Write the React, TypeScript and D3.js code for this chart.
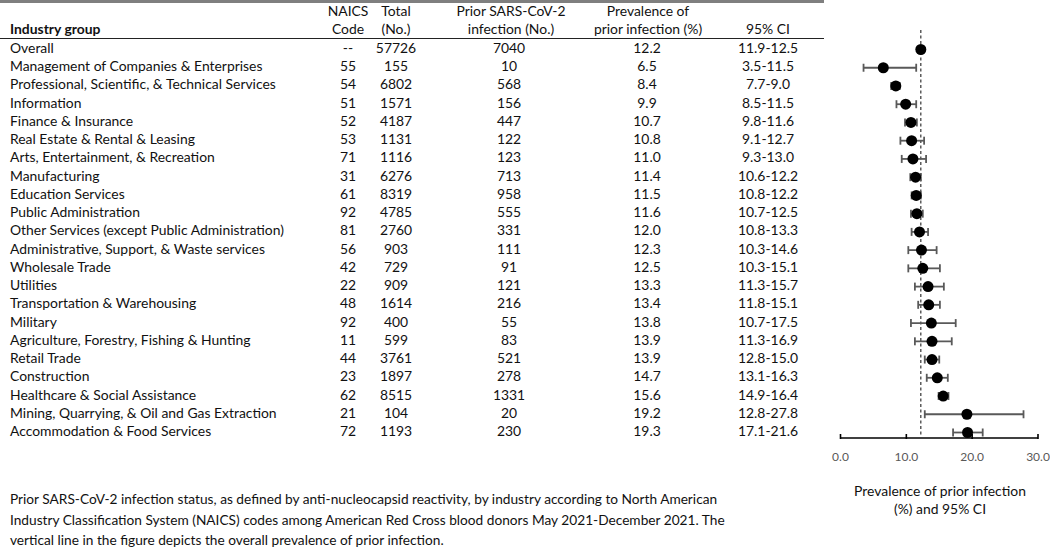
import React, { useEffect, useRef } from "react";
import * as d3 from "d3";

const industries = [
  "Overall",
  "Management of Companies & Enterprises",
  "Professional, Scientific, & Technical Services",
  "Information",
  "Finance & Insurance",
  "Real Estate & Rental & Leasing",
  "Arts, Entertainment, & Recreation",
  "Manufacturing",
  "Education Services",
  "Public Administration",
  "Other Services (except Public Administration)",
  "Administrative, Support, & Waste services",
  "Wholesale Trade",
  "Utilities",
  "Transportation & Warehousing",
  "Military",
  "Agriculture, Forestry, Fishing & Hunting",
  "Retail Trade",
  "Construction",
  "Healthcare & Social Assistance",
  "Mining, Quarrying, & Oil and Gas Extraction",
  "Accommodation & Food Services",
];
const codes = ["--", "55", "54", "51", "52", "53", "71", "31", "61", "92", "81", "56", "42", "22", "48", "92", "11", "44", "23", "62", "21", "72"];
const totals = [57726, 155, 6802, 1571, 4187, 1131, 1116, 6276, 8319, 4785, 2760, 903, 729, 909, 1614, 400, 599, 3761, 1897, 8515, 104, 1193];
const infected = [7040, 10, 568, 156, 447, 122, 123, 713, 958, 555, 331, 111, 91, 121, 216, 55, 83, 521, 278, 1331, 20, 230];
const prevalence = [12.2, 6.5, 8.4, 9.9, 10.7, 10.8, 11.0, 11.4, 11.5, 11.6, 12.0, 12.3, 12.5, 13.3, 13.4, 13.8, 13.9, 13.9, 14.7, 15.6, 19.2, 19.3];
const ciLow = [11.9, 3.5, 7.7, 8.5, 9.8, 9.1, 9.3, 10.6, 10.8, 10.7, 10.8, 10.3, 10.3, 11.3, 11.8, 10.7, 11.3, 12.8, 13.1, 14.9, 12.8, 17.1];
const ciHigh = [12.5, 11.5, 9.0, 11.5, 11.6, 12.7, 13.0, 12.2, 12.2, 12.5, 13.3, 14.6, 15.1, 15.7, 15.1, 17.5, 16.9, 15.0, 16.3, 16.4, 27.8, 21.6];
const xTicks = [0, 10, 20, 30];

const footnote = [
  "Prior SARS-CoV-2 infection status, as defined by anti-nucleocapsid reactivity, by industry according to North American",
  "Industry Classification System (NAICS) codes among American Red Cross blood donors May 2021-December 2021. The",
  "vertical line in the figure depicts the overall prevalence of prior infection.",
];

const ForestTable: React.FC = () => {
  const svgRef = useRef<SVGSVGElement>(null);

  useEffect(() => {
    if (!svgRef.current) return;
    const width = 1050;
    const height = 548;
    const font = "Lato, 'Open Sans', sans-serif";
    const textColor = "#111";
    const fs = 13.9;

    const svg = d3.select(svgRef.current).attr("width", width).attr("height", height);
    svg.selectAll("*").remove();
    svg.style("font-family", font);

    const yScale = d3.scalePoint<string>().domain(industries).range([48, 431]);
    const xScale = d3.scaleLinear().domain([0, 30]).range([840.5, 1038]);

    // table rules
    svg.append("line").attr("x1", 0).attr("x2", 824).attr("y1", 1.5).attr("y2", 1.5)
      .attr("stroke", "#7f7f7f").attr("stroke-width", 3);
    svg.append("line").attr("x1", 0).attr("x2", 824).attr("y1", 38.5).attr("y2", 38.5)
      .attr("stroke", "#222").attr("stroke-width", 1);

    // headers
    const headers = [
      { x: 348, l1: "NAICS", l2: "Code" },
      { x: 396, l1: "Total", l2: "(No.)" },
      { x: 511, l1: "Prior SARS-CoV-2", l2: "infection (No.)" },
      { x: 648, l1: "Prevalence of", l2: "prior infection (%)" },
      { x: 768, l1: "", l2: "95% CI" },
    ];
    headers.forEach((h) => {
      svg.append("text").attr("x", h.x).attr("y", 16).attr("text-anchor", "middle")
        .attr("font-size", fs).attr("fill", textColor).text(h.l1);
      svg.append("text").attr("x", h.x).attr("y", 34).attr("text-anchor", "middle")
        .attr("font-size", fs).attr("fill", textColor).text(h.l2);
    });
    svg.append("text").attr("x", 10).attr("y", 34).attr("font-size", fs)
      .attr("font-weight", "bold").attr("fill", textColor).text("Industry group");

    // table rows
    const rows = svg.append("g").attr("font-size", fs).attr("fill", textColor);
    industries.forEach((name, i) => {
      const y = (yScale(name) as number) + 5;
      const cells: [number, string, string][] = [
        [10, name, "start"],
        [348, codes[i], "middle"],
        [396, String(totals[i]), "middle"],
        [509, String(infected[i]), "middle"],
        [647, prevalence[i].toFixed(1), "middle"],
        [768, `${ciLow[i].toFixed(1)}-${ciHigh[i].toFixed(1)}`, "middle"],
      ];
      cells.forEach(([x, t, anchor]) => {
        rows.append("text").attr("x", x).attr("y", y).attr("text-anchor", anchor).text(t);
      });
    });

    // overall reference line
    svg.append("line")
      .attr("x1", xScale(prevalence[0])).attr("x2", xScale(prevalence[0]))
      .attr("y1", 30).attr("y2", 437)
      .attr("stroke", "#333").attr("stroke-width", 1.2).attr("stroke-dasharray", "3 2.5");

    // error bars and points
    const marks = svg.append("g");
    industries.forEach((name, i) => {
      const y = (yScale(name) as number) + 1.5;
      const x0 = xScale(ciLow[i]);
      const x1 = xScale(ciHigh[i]);
      marks.append("line").attr("x1", x0).attr("x2", x1).attr("y1", y).attr("y2", y)
        .attr("stroke", "#595959").attr("stroke-width", 1.8);
      [x0, x1].forEach((cx) => {
        marks.append("line").attr("x1", cx).attr("x2", cx).attr("y1", y - 4).attr("y2", y + 4)
          .attr("stroke", "#595959").attr("stroke-width", 1.8);
      });
      marks.append("circle").attr("cx", xScale(prevalence[i])).attr("cy", y).attr("r", 5.5)
        .attr("fill", "#000");
    });

    // x axis
    const axis = svg.append("g").attr("transform", "translate(0,438)");
    axis.append("line").attr("x1", xScale(0)).attr("x2", xScale(30)).attr("y1", 0).attr("y2", 0)
      .attr("stroke", "#000").attr("stroke-width", 1.6);
    xTicks.forEach((t) => {
      axis.append("line").attr("x1", xScale(t)).attr("x2", xScale(t)).attr("y1", -4).attr("y2", 1)
        .attr("stroke", "#000").attr("stroke-width", 1.6);
      axis.append("text").attr("x", xScale(t)).attr("y", 23).attr("text-anchor", "middle")
        .attr("font-size", 12).attr("fill", "#595959").text(t.toFixed(1));
    });
    svg.append("text").attr("x", 940).attr("y", 496).attr("text-anchor", "middle")
      .attr("font-size", fs).attr("fill", textColor).text("Prevalence of prior infection");
    svg.append("text").attr("x", 940).attr("y", 514).attr("text-anchor", "middle")
      .attr("font-size", fs).attr("fill", textColor).text("(%) and 95% CI");

    // footnote
    footnote.forEach((line, i) => {
      svg.append("text").attr("x", 10).attr("y", 504 + i * 20.5).attr("font-size", 13.7)
        .attr("fill", textColor).text(line);
    });
  }, []);

  return <svg ref={svgRef} style={{ position: "absolute", left: 0, top: 0, background: "#fff" }}></svg>;
};

export default function App() {
  return <ForestTable />;
}
